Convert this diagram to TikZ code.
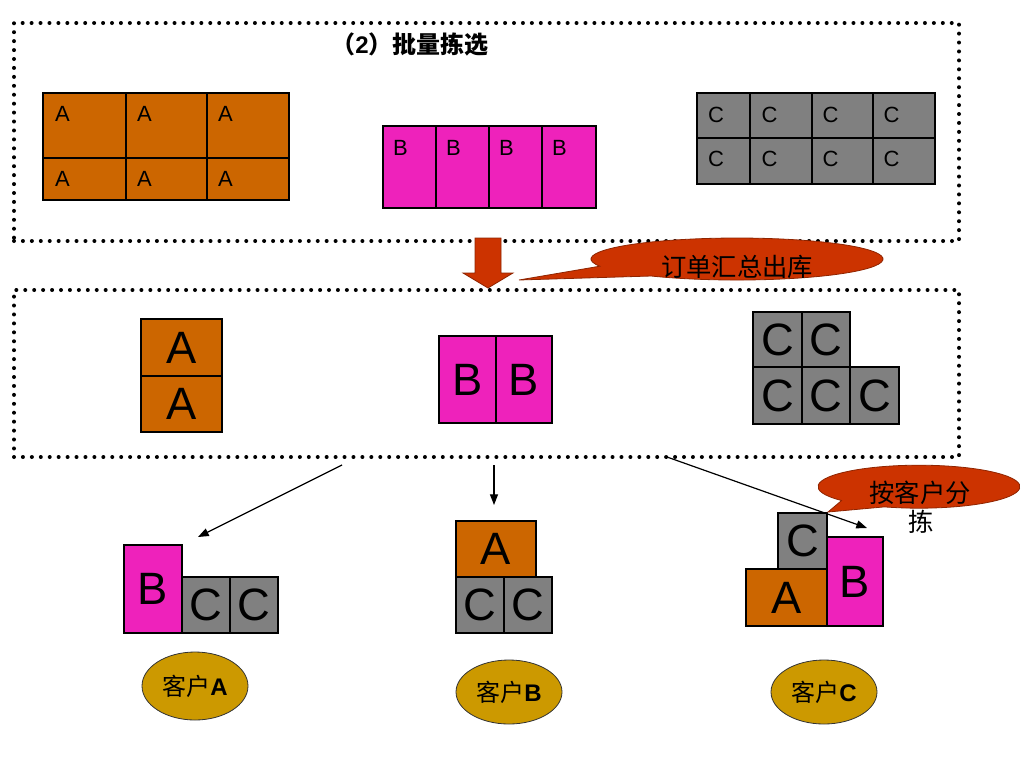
\documentclass[tikz,border=0pt]{standalone}
\usepackage{fontspec}
\setmainfont{Liberation Sans}
\newfontfamily\cjk{Noto Sans CJK SC}
\usetikzlibrary{arrows.meta,shapes.geometric}
\definecolor{orng}{HTML}{CC6600}
\definecolor{pnk}{HTML}{EE22BB}
\definecolor{gry}{HTML}{808080}
\definecolor{redc}{HTML}{CC3300}
\definecolor{goldc}{HTML}{CC9900}
\newcommand\fs[1]{\fontsize{#1}{#1}\selectfont}
% cell: name, x1, y1, x2, y2, fill, text
\newcommand\cb[7]{\node[cell,fill=#6,minimum width={(#4-#2)*0.75pt},minimum height={(#5-#3)*0.75pt}] (#1) at (#2,#3) {#7};}
% top label: cell, dx, dy, text
\newcommand\tl[4]{\node[toplab] at ([shift={(#2,#3)}]#1.north west) {#4};}
\begin{document}
\begin{tikzpicture}[x=0.75pt,y=-0.75pt,
  cell/.style={draw=black, line width=0.8pt, anchor=north west, inner sep=0pt, outer sep=0pt, font=\fs{34pt}},
  thickframe/.style={draw=black, line width=2.2pt},
  toplab/.style={inner sep=0pt, font=\fs{16.5pt}},
  dotbox/.style={draw=black, line width=3pt, dash pattern=on 0pt off 6.7pt, line cap=round, anchor=north west, inner sep=0pt},
  arr/.style={draw=black, line width=0.9pt, -{Triangle[length=8pt,width=6pt]}},
  callout/.style={fill=redc, draw=redc!70!black, line width=0.6pt},
  cust/.style={ellipse, fill=goldc, draw=black!80, line width=0.6pt, inner sep=0pt, minimum width=106*0.75pt, font=\fs{18pt}},
  bigarrow/.style={fill=redc, draw=redc!70!black, line width=0.6pt}
]
\useasboundingbox (0,0) rectangle (1024,768);

% dotted frames
\node[dotbox, minimum width=945*0.75pt, minimum height=218*0.75pt] (batch) at (12,21) {};
\node[dotbox, minimum width=945*0.75pt, minimum height=167*0.75pt] (merge) at (12,288) {};

% title
\node[font=\fs{18pt}] (title) at (410,44) {{\cjk\bfseries （}{\bfseries 2}{\cjk\bfseries ）批量拣选}};

% top orange block
\cb{ta1}{43}{93}{126}{158}{orng}{}
\cb{ta2}{126}{93}{207}{158}{orng}{}
\cb{ta3}{207}{93}{289}{158}{orng}{}
\cb{ta4}{43}{158}{126}{200}{orng}{}
\cb{ta5}{126}{158}{207}{200}{orng}{}
\cb{ta6}{207}{158}{289}{200}{orng}{}
\draw[thickframe] (ta1.north west) rectangle (ta6.south east);
\tl{ta1}{19.5}{20.5}{A}
\tl{ta2}{18.5}{20.5}{A}
\tl{ta3}{18.5}{20.5}{A}
\tl{ta4}{19.5}{20.5}{A}
\tl{ta5}{18.5}{20.5}{A}
\tl{ta6}{18.5}{20.5}{A}

% top pink block
\cb{tb1}{383}{126}{436}{208}{pnk}{}
\cb{tb2}{436}{126}{489}{208}{pnk}{}
\cb{tb3}{489}{126}{542}{208}{pnk}{}
\cb{tb4}{542}{126}{596}{208}{pnk}{}
\draw[thickframe] (tb1.north west) rectangle (tb4.south east);
\tl{tb1}{17.5}{21.5}{B}
\tl{tb2}{17.5}{21.5}{B}
\tl{tb3}{17.5}{21.5}{B}
\tl{tb4}{17.5}{21.5}{B}

% top gray block
\cb{tc1}{697}{93}{750}{138}{gry}{}
\cb{tc2}{750}{93}{812}{138}{gry}{}
\cb{tc3}{812}{93}{873}{138}{gry}{}
\cb{tc4}{873}{93}{935}{138}{gry}{}
\cb{tc5}{697}{138}{750}{184}{gry}{}
\cb{tc6}{750}{138}{812}{184}{gry}{}
\cb{tc7}{812}{138}{873}{184}{gry}{}
\cb{tc8}{873}{138}{935}{184}{gry}{}
\draw[thickframe] (tc1.north west) rectangle (tc8.south east);
\tl{tc1}{19}{21.5}{C}
\tl{tc2}{19.5}{21.5}{C}
\tl{tc3}{18.5}{21.5}{C}
\tl{tc4}{18.5}{21.5}{C}
\tl{tc5}{19}{20.5}{C}
\tl{tc6}{19.5}{20.5}{C}
\tl{tc7}{18.5}{20.5}{C}
\tl{tc8}{18.5}{20.5}{C}

% big red arrow
\draw[bigarrow] (475,238) -- (501,238) -- (501,273) -- (513,273) -- (488,288) -- (463,273) -- (475,273) -- cycle;

% callout 1
\draw[callout] (519,280) -- (599.8,266.2) arc[start angle=160, end angle=486, x radius=146, y radius=21] -- cycle;
\node[font=\cjk\fs{19pt}] (c1text) at (737,267) {订单汇总出库};

% middle
\cb{ma1}{141}{319}{222}{376}{orng}{A}
\cb{ma2}{141}{376}{222}{432}{orng}{A}
\cb{mb1}{439}{336}{496}{423}{pnk}{B}
\cb{mb2}{496}{336}{552}{423}{pnk}{B}
\cb{mc1}{753}{312}{802}{367}{gry}{C}
\cb{mc2}{802}{312}{850}{367}{gry}{C}
\cb{mc3}{753}{367}{802}{424}{gry}{C}
\cb{mc4}{802}{367}{850}{424}{gry}{C}
\cb{mc5}{850}{367}{899}{424}{gry}{C}

% bottom group A
\cb{ga1}{124}{545}{182}{633}{pnk}{B}
\cb{ga2}{182}{577}{230}{633}{gry}{C}
\cb{ga3}{230}{577}{278}{633}{gry}{C}
% bottom group B
\cb{gb1}{456}{521}{536}{577}{orng}{A}
\cb{gb2}{456}{577}{504}{633}{gry}{C}
\cb{gb3}{504}{577}{552}{633}{gry}{C}
% bottom group C
\cb{gc1}{778}{513}{827}{569}{gry}{C}
\cb{gc2}{746}{569}{827}{626}{orng}{A}
\cb{gc3}{827}{537}{883}{626}{pnk}{B}

% callout 2
\draw[callout] (828,512) -- (841.6,500.5) arc[start angle=140, end angle=470, x radius=101, y radius=21.5] -- cycle;
\node[font=\cjk\fs{19pt}] (c2text) at (920,493) {按客户分};
\node[font=\cjk\fs{19pt}] (c2text2) at (921,522) {拣};

% connectors
\coordinate (s1) at (342,465);
\coordinate (e1) at (198,537);
\coordinate (s2) at (494,465);
\coordinate (e2) at (494,505);
\coordinate (s3) at (667,457);
\coordinate (e3) at (867,528);
\draw[arr] (s1) -- (e1);
\draw[arr] (s2) -- (e2);
\draw[arr] (s3) -- (e3);

% customers
\node[cust, minimum height=68*0.75pt] (custA) at (195,686) {{\cjk 客户}\textbf{A}};
\node[cust, minimum height=64*0.75pt] (custB) at (509,692) {{\cjk 客户}\textbf{B}};
\node[cust, minimum height=64*0.75pt] (custC) at (824,692) {{\cjk 客户}\textbf{C}};
\end{tikzpicture}
\end{document}
